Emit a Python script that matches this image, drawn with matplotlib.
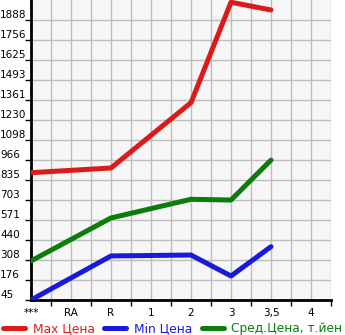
import numpy as np
import matplotlib.pyplot as plt
from matplotlib.ticker import FixedLocator

# data
categories = ['***', 'RA', 'R', '1', '2', '3', '3,5', '4']
max_x = [0, 2, 4, 5, 6]
max_price = [883, 914, 1344, 2005, 1954]
min_x = [0, 2, 4, 5, 6]
min_price = [45, 335, 341, 203, 396]
avg_x = [0, 2, 4, 5, 6]
avg_price = [302, 585, 708, 703, 966]
ytick_labels = ['45', '176', '308', '440', '571', '703', '835', '966',
                '1098', '1230', '1361', '1493', '1625', '1756', '1888']

y0 = 45
step = (1888 - 45) / 14
yticks = [y0 + step * i for i in range(len(ytick_labels))]

fig = plt.figure(figsize=(3.45, 3.35), dpi=100)
ax = fig.add_axes([31 / 345, 1 - 300 / 335, 300 / 345, 300 / 335])
ax.set_facecolor('#f6f6f6')

lw = 3.6
ax.plot(max_x, max_price, color='#dd1a1a', lw=lw, solid_capstyle='round', label='Max Цена', zorder=3)
ax.plot(min_x, min_price, color='#1a1adc', lw=lw, solid_capstyle='round', label='Min Цена', zorder=3)
ax.plot(avg_x, avg_price, color='#0a7d0a', lw=lw, solid_capstyle='round', label='Сред.Цена, т.йен', zorder=3)

ax.set_xlim(0, 7.5)
ax.set_ylim(y0, y0 + step * 15)

# tick marks sit between the labels
ax.xaxis.set_major_locator(FixedLocator([i + 0.5 for i in range(8)]))
ax.xaxis.set_minor_locator(FixedLocator(list(range(8))))
ax.set_xticklabels([''] * 8)
ax.set_xticklabels(categories, minor=True)
ax.tick_params(axis='x', which='major', length=4, width=1, color='black', direction='out')
ax.tick_params(axis='x', which='minor', length=0, pad=6, labelsize=7.5)

# y labels are left aligned at the figure edge
ax.set_yticks(yticks)
ax.set_yticklabels(ytick_labels)
ax.tick_params(axis='y', length=4, width=1, direction='out', labelsize=7.5, pad=18.2)
for t in ax.get_yticklabels():
    t.set_horizontalalignment('left')
    t.set_verticalalignment('bottom')

ax.grid(True, which='both', axis='x', color='#bdbdbd', lw=1)
ax.grid(True, which='major', axis='y', color='#bdbdbd', lw=1)
ax.set_axisbelow(True)

for s in ['top', 'right']:
    ax.spines[s].set_visible(False)
ax.spines['left'].set_linewidth(2)
ax.spines['bottom'].set_linewidth(2)

leg = fig.legend(loc='lower left', bbox_to_anchor=(-0.005, -0.014), ncol=3, frameon=False,
                 fontsize=8.8, handlelength=1.8, handletextpad=0.65, columnspacing=0.75,
                 borderaxespad=0)
for text, line in zip(leg.get_texts(), leg.get_lines()):
    text.set_color(line.get_color())

fig.savefig('out.png', dpi=100)
